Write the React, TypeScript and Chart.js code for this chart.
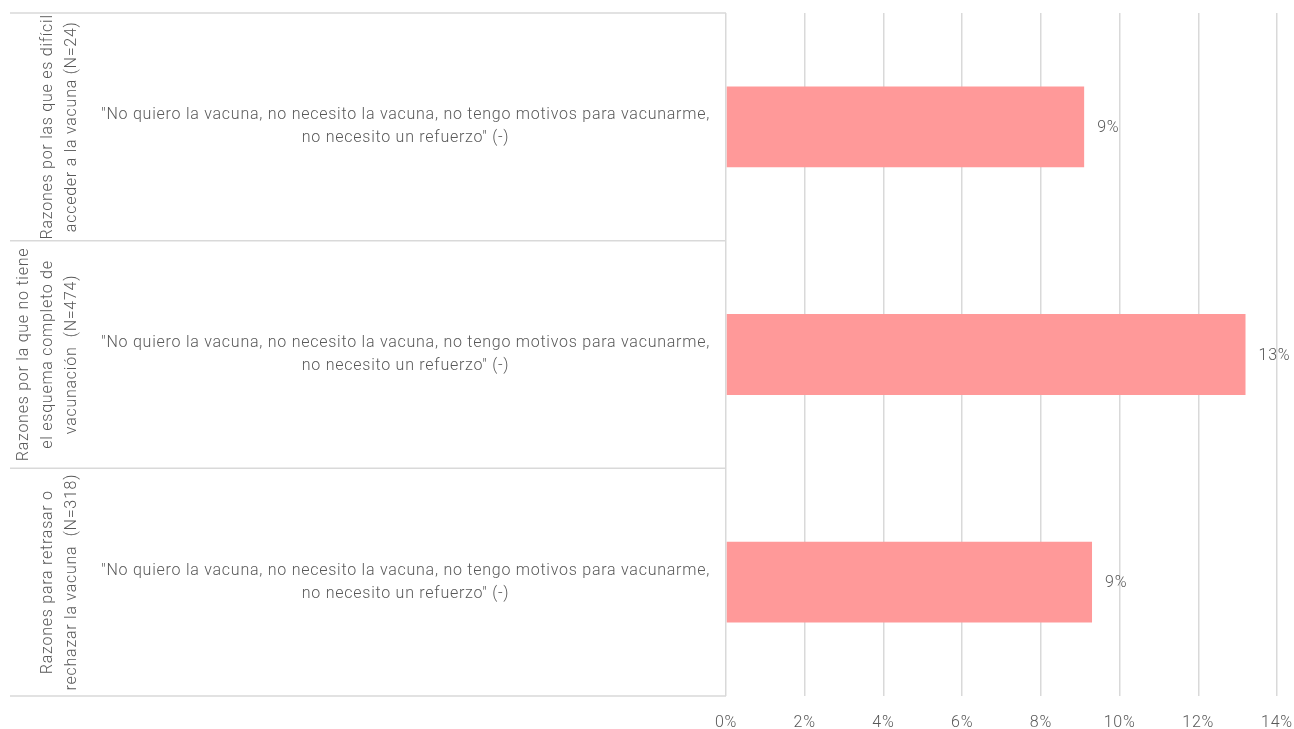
import React, { useEffect, useRef } from "react";
import { Chart, registerables } from "chart.js";

Chart.register(...registerables);

const categoryLabels: string[][] = [
  ['"No quiero la vacuna, no necesito la vacuna, no tengo motivos para vacunarme,', 'no necesito un refuerzo" (-)'],
  ['"No quiero la vacuna, no necesito la vacuna, no tengo motivos para vacunarme,', 'no necesito un refuerzo" (-)'],
  ['"No quiero la vacuna, no necesito la vacuna, no tengo motivos para vacunarme,', 'no necesito un refuerzo" (-)'],
];
const groupLabels: string[][] = [
  ["Razones por las que es difícil", "acceder a la vacuna (N=24)"],
  ["Razones por la que no tiene", "el esquema completo de", "vacunación  (N=474)"],
  ["Razones para retrasar o", "rechazar la vacuna  (N=318)"],
];
const groupSizes: number[] = [1, 1, 1];
const values: number[] = [9.1, 13.2, 9.3];
const xTicks: number[] = [0, 2, 4, 6, 8, 10, 12, 14];

const FONT = "Roboto";
const TEXT = "#595959";
const LINE = "#d9d9d9";
const SPACING = "0.75px";

const groupPlugin = {
  id: "groupPlugin",
  beforeUpdate(chart: any) {
    chart.ctx.letterSpacing = SPACING;
  },
  beforeDraw(chart: any) {
    chart.ctx.letterSpacing = SPACING;
  },
  afterDraw(chart: any) {
    const ctx = chart.ctx;
    const y = chart.scales.y;
    const area = chart.chartArea;
    const n = values.length;
    const step = n > 1 ? y.getPixelForValue(1) - y.getPixelForValue(0) : area.bottom - area.top;
    ctx.save();
    ctx.letterSpacing = SPACING;
    ctx.strokeStyle = LINE;
    ctx.lineWidth = 1.5;
    let idx = 0;
    const bounds: number[] = [y.getPixelForValue(0) - step / 2];
    groupSizes.forEach((s) => {
      idx += s;
      bounds.push(y.getPixelForValue(idx - 1) + step / 2);
    });
    bounds.forEach((b) => {
      ctx.beginPath();
      ctx.moveTo(10, b);
      ctx.lineTo(area.left, b);
      ctx.stroke();
    });
    ctx.fillStyle = TEXT;
    ctx.font = `300 16px ${FONT}`;
    ctx.textAlign = "center";
    ctx.textBaseline = "middle";
    groupLabels.forEach((lines, g) => {
      const cy = (bounds[g] + bounds[g + 1]) / 2;
      lines.forEach((line, j) => {
        const x = 72 - (lines.length - 1 - j) * 24;
        ctx.save();
        ctx.translate(x, cy);
        ctx.rotate(-Math.PI / 2);
        ctx.fillText(line, 0, 0);
        ctx.restore();
      });
    });
    ctx.restore();
  },
  afterDatasetsDraw(chart: any) {
    const ctx = chart.ctx;
    const meta = chart.getDatasetMeta(0);
    ctx.save();
    ctx.letterSpacing = SPACING;
    ctx.fillStyle = TEXT;
    ctx.font = `300 16px ${FONT}`;
    ctx.textAlign = "left";
    ctx.textBaseline = "middle";
    meta.data.forEach((bar: any, i: number) => {
      ctx.fillText(Math.round(values[i]) + "%", bar.x + 13, bar.y + 1);
    });
    ctx.restore();
  },
};

export default function App() {
  const ref = useRef<HTMLCanvasElement>(null);
  useEffect(() => {
    if (!ref.current) return;
    const chart = new Chart(ref.current, {
      type: "bar",
      data: {
        labels: categoryLabels,
        datasets: [
          {
            data: values,
            backgroundColor: "#FF9999",
            barPercentage: 0.355,
            categoryPercentage: 1,
          },
        ],
      },
      options: {
        indexAxis: "y",
        animation: false,
        responsive: false,
        layout: { padding: { top: 13, right: 17, left: 0, bottom: 0 } },
        plugins: { legend: { display: false }, tooltip: { enabled: false } },
        scales: {
          x: {
            min: 0,
            max: 14,
            afterBuildTicks: (scale: any) => {
              scale.ticks = xTicks.map((v) => ({ value: v }));
            },
            afterFit: (scale: any) => {
              scale.height = 33;
              scale.paddingLeft = 0;
              scale.paddingRight = 0;
            },
            ticks: {
              callback: (v: any) => v + "%",
              color: TEXT,
              font: { family: FONT, size: 16, weight: "300" },
              padding: 17,
            },
            grid: { color: LINE, lineWidth: 1.5, drawTicks: false },
            border: { display: false },
          },
          y: {
            afterFit: (scale: any) => {
              scale.width = 726;
              scale.paddingTop = 0;
              scale.paddingBottom = 0;
            },
            ticks: {
              crossAlign: "center",
              color: TEXT,
              padding: 16,
              font: { family: FONT, size: 16, weight: "300", lineHeight: 1.45 },
            },
            grid: { display: false, drawTicks: false },
            border: { display: false },
          },
        },
      },
      plugins: [groupPlugin],
    });
    return () => chart.destroy();
  }, []);
  return (
    <div style={{ position: "absolute", left: 0, top: 0, width: 1294, height: 729 }}>
      <canvas ref={ref} width={1294} height={729} />
    </div>
  );
}
